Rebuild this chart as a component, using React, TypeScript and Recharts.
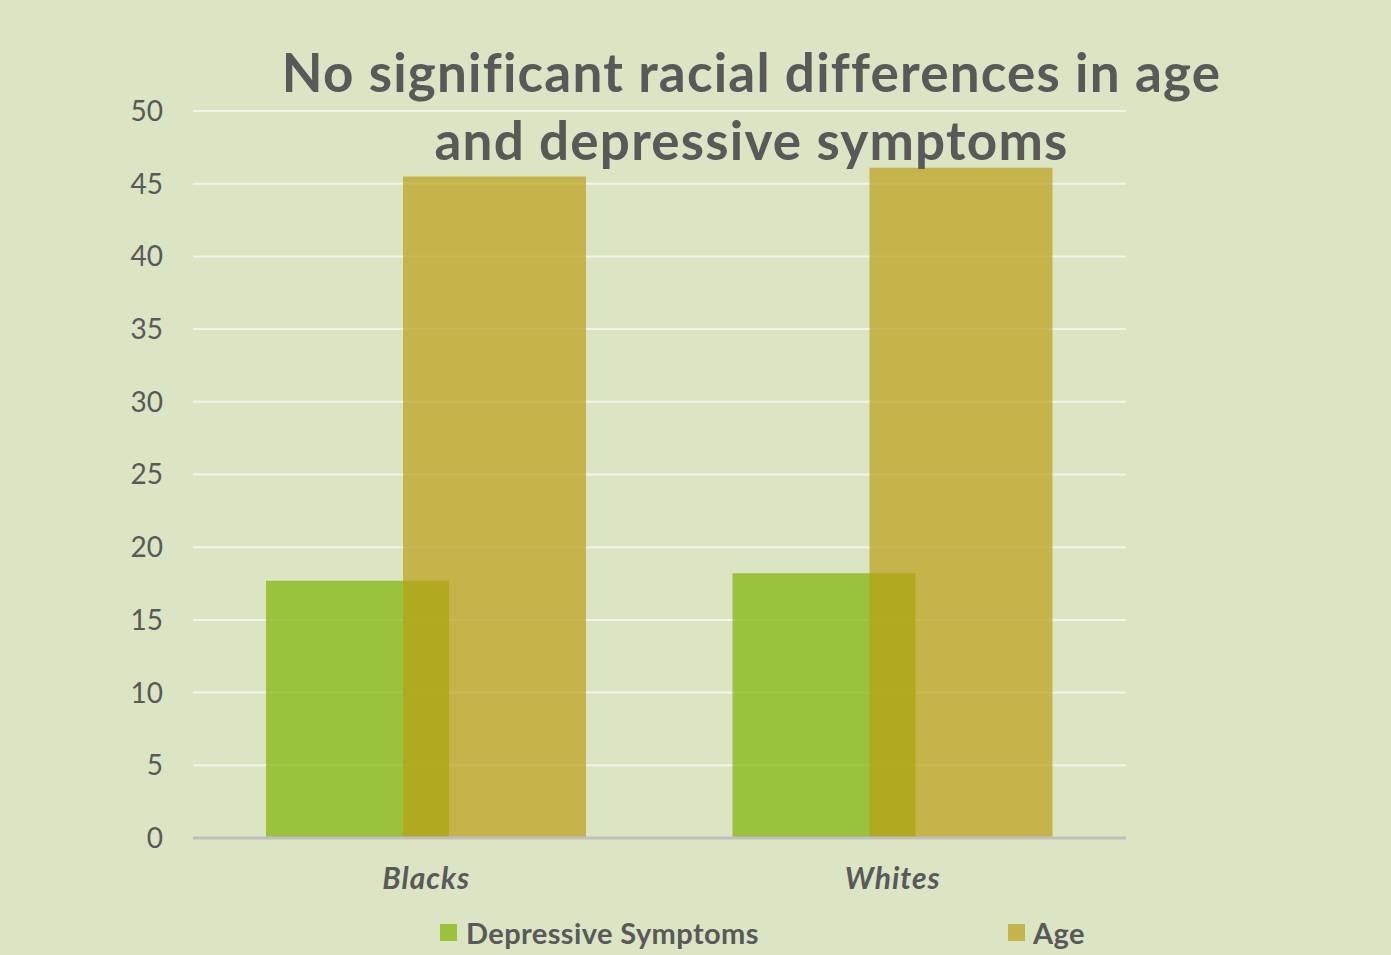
import React from "react";
import {
  BarChart,
  Bar,
  XAxis,
  YAxis,
  CartesianGrid,
  Legend,
} from "recharts";

const categories = ["Blacks", "Whites"];
const depressiveSymptoms = [17.7, 18.2];
const ageValues = [45.5, 46.1];
const yTicks = [0, 5, 10, 15, 20, 25, 30, 35, 40, 45, 50];

const data = categories.map((race, i) => ({
  race,
  depressive: depressiveSymptoms[i],
  age: ageValues[i],
}));

const FONT = "Lato, 'Open Sans', sans-serif";
const TEXT = "#595959";
const GREEN = "#7eb200";
const GOLD = "#bb9e14";

const LegendContent = () => (
  <div
    style={{
      display: "flex",
      alignItems: "center",
      height: 40,
      marginTop: -3,
      paddingLeft: 440,
      fontFamily: FONT,
      fontWeight: 700,
      fontSize: 29,
      letterSpacing: 0.4,
      color: TEXT,
    }}>
    <div style={{ display: "flex", alignItems: "center", width: 568 }}>
      <span
        style={{
          width: 17,
          height: 17,
          background: GREEN,
          opacity: 0.69,
          marginRight: 9,
        }}
      />
      Depressive Symptoms
    </div>
    <div style={{ display: "flex", alignItems: "center" }}>
      <span
        style={{
          width: 17,
          height: 17,
          background: GOLD,
          opacity: 0.69,
          marginRight: 8,
        }}
      />
      Age
    </div>
  </div>
);

export default function App() {
  return (
    <div
      style={{
        position: "absolute",
        left: 0,
        top: 0,
        width: 1391,
        height: 955,
        background: "#dbe5c3",
        overflow: "hidden",
      }}>
      <BarChart
        width={1391}
        height={955}
        data={data}
        margin={{ top: 111, right: 265, left: 0, bottom: 0 }}
        barSize={183}
        barGap={-46}>
        <CartesianGrid
          vertical={false}
          stroke="#f2f3ea"
          strokeWidth={2}
        />
        <XAxis
          dataKey="race"
          height={77}
          axisLine={{ stroke: "#bfbfbf", strokeWidth: 3 }}
          tickLine={false}
          tickSize={0}
          tickMargin={30}
          tick={{
            fill: TEXT,
            fontSize: 30,
            fontWeight: 700,
            fontStyle: "italic",
            fontFamily: FONT,
            letterSpacing: 1,
          }}
        />
        <YAxis
          width={193}
          domain={[0, 50]}
          ticks={yTicks}
          interval={0}
          axisLine={false}
          tickLine={false}
          tickSize={0}
          tickMargin={30}
          tick={{ fill: TEXT, fontSize: 28, fontFamily: FONT }}
        />
        <Legend verticalAlign="bottom" height={40} content={<LegendContent />} />
        <Bar
          dataKey="depressive"
          name="Depressive Symptoms"
          fill={GREEN}
          fillOpacity={0.69}
          isAnimationActive={false}
        />
        <Bar
          dataKey="age"
          name="Age"
          fill={GOLD}
          fillOpacity={0.69}
          isAnimationActive={false}
        />
      </BarChart>
      <div
        style={{
          position: "absolute",
          left: 0,
          top: 38,
          width: 1503,
          textAlign: "center",
          fontFamily: FONT,
          fontWeight: 700,
          fontSize: 53,
          letterSpacing: 1.2,
          lineHeight: "68px",
          color: TEXT,
          pointerEvents: "none",
        }}>
        No significant racial differences in age
        <br />
        and depressive symptoms
      </div>
    </div>
  );
}
